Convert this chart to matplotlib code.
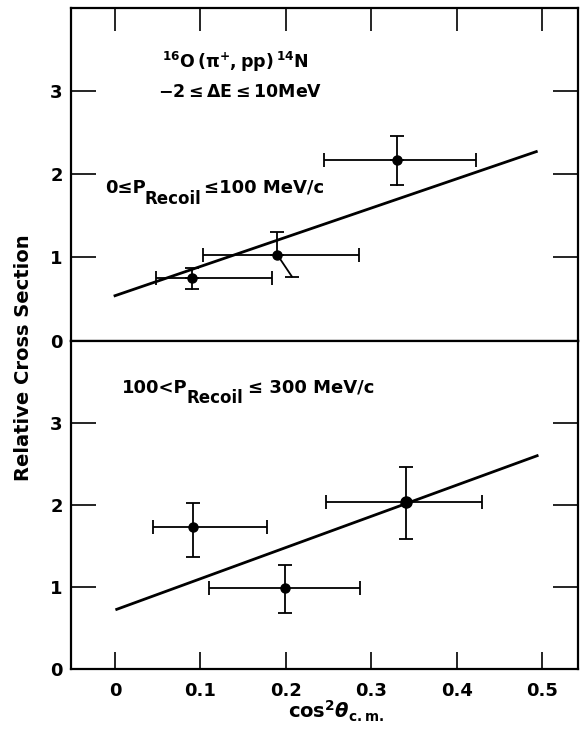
import matplotlib
matplotlib.use("Agg")
import matplotlib.pyplot as plt
import numpy as np

# ---------------- data ----------------
# upper panel: 0 <= P_recoil <= 100 MeV/c
top_x = [0.090, 0.190, 0.330]
top_y = [0.75, 1.03, 2.17]
top_x_lo = [0.048, 0.103, 0.245]
top_x_hi = [0.184, 0.286, 0.422]
top_y_lo = [0.62, 0.77, 1.87]
top_y_hi = [0.87, 1.31, 2.46]
top_ylo_x = [0.090, 0.207, 0.330]   # x where lower error bar ends (slanted in original)
top_fit_x = [0.0, 0.493]
top_fit_y = [0.54, 2.27]

# lower panel: 100 < P_recoil <= 300 MeV/c
bot_x = [0.091, 0.199, 0.341]
bot_y = [1.73, 0.995, 2.04]
bot_x_lo = [0.045, 0.110, 0.247]
bot_x_hi = [0.178, 0.287, 0.430]
bot_y_lo = [1.37, 0.69, 1.585]
bot_y_hi = [2.02, 1.27, 2.46]
bot_msize = [6.5, 6.5, 8]
bot_fit_x = [0.002, 0.494]
bot_fit_y = [0.73, 2.60]

xticks = [0, 0.1, 0.2, 0.3, 0.4, 0.5]
xticklabels = ["0", "0.1", "0.2", "0.3", "0.4", "0.5"]
yticks = [0, 1, 2, 3]
yticklabels = ["0", "1", "2", "3"]

# ---------------- style ----------------
plt.rcParams['font.family'] = ['DejaVu Sans']
plt.rcParams['font.weight'] = 'bold'
plt.rcParams['mathtext.fontset'] = 'custom'
plt.rcParams['mathtext.rm'] = 'DejaVu Sans:bold'
plt.rcParams['mathtext.it'] = 'DejaVu Sans:bold:italic'
plt.rcParams['mathtext.bf'] = 'DejaVu Sans:bold'
plt.rcParams['mathtext.sf'] = 'DejaVu Sans:bold'

W, H = 580, 732
fig = plt.figure(figsize=(W / 100, H / 100), dpi=100)

left = 71 / W
right = 578 / W
ymid = 1 - 340.7 / H
ytop = 1 - 7.5 / H
ybot = 1 - 669.3 / H

ax1 = fig.add_axes([left, ymid, right - left, ytop - ymid])
ax2 = fig.add_axes([left, ybot, right - left, ymid - ybot], sharex=ax1)

xlim = (-0.0515, 0.5418)
for ax in (ax1, ax2):
    ax.set_xlim(*xlim)
    ax.set_ylim(0, 4)
    for s in ax.spines.values():
        s.set_linewidth(1.6)
    ax.set_yticks(yticks)
    ax.set_yticklabels(yticklabels, fontsize=13, fontweight='bold')
    ax.tick_params(axis='y', direction='in', length=18, width=1.2, pad=6,
                   left=True, right=True, labelright=False)

# top panel: x ticks on top only, no labels
ax1.tick_params(axis='x', direction='in', length=16.5, width=1.2,
                top=True, bottom=False, labelbottom=False, labeltop=False)
ax1.set_xticks(xticks)
# bottom panel: x ticks bottom with labels
ax2.tick_params(axis='x', direction='in', length=12, width=1.2, pad=9,
                top=False, bottom=True, labelbottom=True)
ax2.set_xticks(xticks)
ax2.set_xticklabels(xticklabels, fontsize=13, fontweight='bold')
# hide the y tick at 0 (coincides with horizontal line)
for ax in (ax1, ax2):
    for t in ax.yaxis.get_major_ticks():
        if t.get_loc() == 0:
            t.tick1line.set_visible(False)
            t.tick2line.set_visible(False)

ebkw = dict(color='black', lw=1.3)
cap = 5

# ---- top panel data ----
ax1.plot(top_fit_x, top_fit_y, color='black', lw=2.0)
for i in range(len(top_x)):
    x, y = top_x[i], top_y[i]
    ax1.errorbar([x], [y], xerr=[[x - top_x_lo[i]], [top_x_hi[i] - x]],
                 yerr=[[0], [top_y_hi[i] - y]], fmt='none', ecolor='black',
                 elinewidth=1.3, capsize=cap, capthick=1.3)
    # lower error bar (slanted for the middle point as drawn in original)
    ax1.plot([x, top_ylo_x[i]], [y, top_y_lo[i]], **ebkw)
    ax1.errorbar([top_ylo_x[i]], [top_y_lo[i]], xerr=[[0.008], [0.008]],
                 fmt='none', ecolor='black', elinewidth=1.3, capsize=0)
    ax1.plot([x], [y], 'o', color='black', ms=6.5)

# ---- bottom panel data ----
ax2.plot(bot_fit_x, bot_fit_y, color='black', lw=2.0)
for i in range(len(bot_x)):
    x, y = bot_x[i], bot_y[i]
    ax2.errorbar([x], [y], xerr=[[x - bot_x_lo[i]], [bot_x_hi[i] - x]],
                 yerr=[[y - bot_y_lo[i]], [bot_y_hi[i] - y]], fmt='none',
                 ecolor='black', elinewidth=1.3, capsize=cap, capthick=1.3)
    ax2.plot([x], [y], 'o', color='black', ms=bot_msize[i])

# ---- annotations ----
def ptext(px, py, s, size, **kw):
    fig.text(px / W, 1 - py / H, s, fontsize=size, fontweight='bold',
             ha='left', va='baseline', **kw)

fs = 12.5
ax1.text(0.055, 3.35, r'$^{16}\mathrm{O\,(\pi^{+},pp)}\,^{14}\mathrm{N}$', fontsize=fs,
         ha='left', va='center')
ax1.text(0.050, 2.98, r'$\mathrm{-2\leq\Delta E\leq 10MeV}$', fontsize=fs,
         ha='left', va='center')

# 0 <= P_Recoil <= 100 MeV/c
ptext(105, 193, '0≤P', 13)
ptext(145, 204, 'Recoil', 12)
ptext(204, 193, '≤100 MeV/c', 13)
# 100 < P_Recoil <= 300 MeV/c
ptext(122, 393, '100<P', 13)
ptext(187, 403, 'Recoil', 12)
ptext(248, 393, '≤ 300 MeV/c', 13)

fig.text(24 / W, 1 - 358 / H, 'Relative Cross Section', rotation=90,
         ha='center', va='center', fontsize=14, fontweight='bold')
fig.text(336 / W, 1 - 711 / H, r'$\mathrm{cos}^{2}\theta_{\mathrm{c.m.}}$',
         ha='center', va='center', fontsize=14)

fig.savefig('out.png', dpi=100, facecolor='white')
